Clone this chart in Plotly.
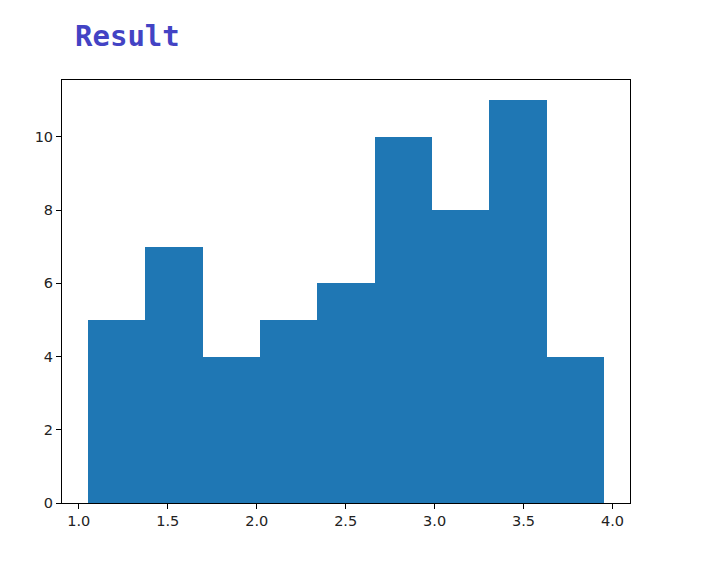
import plotly.graph_objects as go

bin_edges = [1.0506, 1.3731, 1.6956, 2.0181, 2.3406, 2.6631, 2.9856, 3.3081, 3.6306, 3.9531]
counts = [5, 7, 4, 5, 6, 10, 8, 11, 4]
x_ticks = [1.0, 1.5, 2.0, 2.5, 3.0, 3.5, 4.0]
y_ticks = [0, 2, 4, 6, 8, 10]
title_text = "Result"

centers = [(a + b) / 2 for a, b in zip(bin_edges[:-1], bin_edges[1:])]
widths = [b - a for a, b in zip(bin_edges[:-1], bin_edges[1:])]

span = bin_edges[-1] - bin_edges[0]
xr = [bin_edges[0] - 0.05 * span, bin_edges[-1] + 0.05 * span]
yr = [0, max(counts) * 1.05]

fig = go.Figure(go.Bar(x=centers, y=counts, width=widths,
                       marker=dict(color="#1f77b4", line=dict(width=0))))

axis_common = dict(showline=True, linecolor="black", linewidth=1, mirror=True,
                   ticks="outside", ticklen=5, tickwidth=1, tickcolor="black",
                   showgrid=False, zeroline=False,
                   tickfont=dict(family="DejaVu Sans", size=14.5, color="#222"))

fig.update_layout(
    width=704, height=568,
    margin=dict(l=54, r=82, t=72, b=73),
    paper_bgcolor="white", plot_bgcolor="white",
    showlegend=False,
    bargap=0,
    title=dict(text="<b>" + title_text + "</b>", x=67 / 704, xanchor="left",
               y=1 - 28 / 568, yanchor="middle",
               font=dict(family="DejaVu Sans Mono", size=29, color="#4343c4")),
)
fig.update_xaxes(range=xr, tickvals=x_ticks, ticktext=[f"{v:.1f}" for v in x_ticks], **axis_common)
fig.update_yaxes(range=yr, tickvals=y_ticks, **axis_common)

fig.write_html("out.html")
